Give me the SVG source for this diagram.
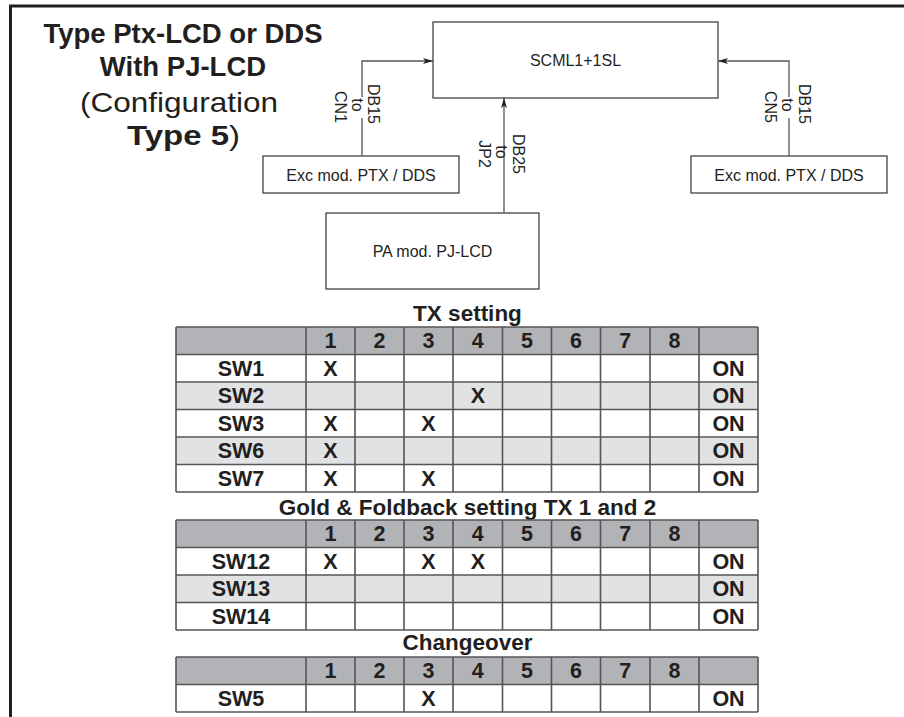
<svg xmlns="http://www.w3.org/2000/svg" width="904" height="717" viewBox="0 0 904 717">
<style>
text{font-family:"Liberation Sans",Arial,sans-serif;fill:#231f20}
.t{font-size:27.5px;font-weight:bold;text-anchor:middle}
.tr{font-size:28px;font-weight:normal;text-anchor:middle}
.n{font-size:16px;text-anchor:middle}
.box{fill:#fff;stroke:#333;stroke-width:1.2}
.conn{fill:none;stroke:#555;stroke-width:1.3}
.h{font-size:22.5px;font-weight:bold;text-anchor:middle}
.c{font-size:21.5px;font-weight:bold;text-anchor:middle}
.hd{fill:#b2b3b6}
.lt{fill:#e1e2e4}
.wt{fill:#fff}
.grid{fill:none;stroke:#555;stroke-width:1.6}
</style>
<defs>
<marker id="arr" viewBox="0 0 10 6" refX="10" refY="3" markerWidth="10" markerHeight="6" markerUnits="userSpaceOnUse" orient="auto">
<path d="M0,0 L10,3 L0,6 L2.5,3 Z" fill="#222"/>
</marker>
</defs>
<rect width="904" height="717" fill="#fff"/>
<path d="M10.5,717 V6 H904" fill="none" stroke="#231f20" stroke-width="3"/>

<g id="title">
<text class="t" x="183" y="43">Type Ptx-LCD or DDS</text>
<text class="t" x="183" y="76">With PJ-LCD</text>
<text class="tr" x="80" y="112" style="text-anchor:start" textLength="198" lengthAdjust="spacingAndGlyphs">(Configuration</text>
<text class="t" x="127" y="145" style="text-anchor:start" textLength="113" lengthAdjust="spacingAndGlyphs">Type 5<tspan font-weight="normal">)</tspan></text>
</g>

<g id="scml">
<rect class="box" x="433" y="22" width="285" height="76"/>
<text class="n" x="575.5" y="66">SCML1+1SL</text>
</g>
<g id="exc-left">
<rect class="box" x="263" y="156" width="196" height="37"/>
<text class="n" x="361" y="181">Exc mod. PTX / DDS</text>
</g>
<g id="exc-right">
<rect class="box" x="691" y="156" width="196" height="37"/>
<text class="n" x="789" y="181">Exc mod. PTX / DDS</text>
</g>
<g id="pa">
<rect class="box" x="326" y="213" width="213" height="76"/>
<text class="n" x="432.5" y="257">PA mod. PJ-LCD</text>
</g>

<g id="connectors">
<path class="conn" d="M362,156 V118"/>
<path class="conn" d="M362,97 V61 H433" marker-end="url(#arr)"/>
<path class="conn" d="M789,156 V118"/>
<path class="conn" d="M789,97 V61 H718" marker-end="url(#arr)"/>
<path class="conn" d="M504,213 V98" marker-end="url(#arr)"/>
<text class="n" transform="translate(368,104) rotate(90)">DB15</text>
<text class="n" transform="translate(352,105) rotate(90)">to</text>
<text class="n" transform="translate(335,107) rotate(90)">CN1</text>
<text class="n" transform="translate(799,104) rotate(90)">DB15</text>
<text class="n" transform="translate(782,105) rotate(90)">to</text>
<text class="n" transform="translate(765,107) rotate(90)">CN5</text>
<text class="n" transform="translate(513,154) rotate(90)">DB25</text>
<text class="n" transform="translate(496,152) rotate(90)">to</text>
<text class="n" transform="translate(479,154) rotate(90)">JP2</text>
</g>

<g id="table-tx">
<text class="h" x="467.5" y="321">TX setting</text>
<rect class="hd" x="176" y="327" width="582" height="27.5"/>
<rect class="wt" x="176" y="354.5" width="582" height="27.5"/>
<rect class="lt" x="176" y="382" width="582" height="27.5"/>
<rect class="wt" x="176" y="409.5" width="582" height="27.5"/>
<rect class="lt" x="176" y="437" width="582" height="27.5"/>
<rect class="wt" x="176" y="464.5" width="582" height="27.5"/>
<path class="grid" d="M176,327 H758 M176,354.5 H758 M176,382 H758 M176,409.5 H758 M176,437 H758 M176,464.5 H758 M176,492 H758 M176,327 V492 M306,327 V492 M355,327 V492 M404,327 V492 M453,327 V492 M502.5,327 V492 M551.5,327 V492 M600.5,327 V492 M650,327 V492 M699,327 V492 M758,327 V492"/>
<text class="c" x="330.5" y="348">1</text><text class="c" x="379.5" y="348">2</text><text class="c" x="428.5" y="348">3</text><text class="c" x="477.8" y="348">4</text><text class="c" x="527" y="348">5</text><text class="c" x="576" y="348">6</text><text class="c" x="625.3" y="348">7</text><text class="c" x="674.5" y="348">8</text>
<text class="c" x="241" y="375.5">SW1</text><text class="c" x="330.5" y="375.5">X</text><text class="c" x="728.5" y="375.5">ON</text>
<text class="c" x="241" y="403">SW2</text><text class="c" x="477.8" y="403">X</text><text class="c" x="728.5" y="403">ON</text>
<text class="c" x="241" y="430.5">SW3</text><text class="c" x="330.5" y="430.5">X</text><text class="c" x="428.5" y="430.5">X</text><text class="c" x="728.5" y="430.5">ON</text>
<text class="c" x="241" y="458">SW6</text><text class="c" x="330.5" y="458">X</text><text class="c" x="728.5" y="458">ON</text>
<text class="c" x="241" y="485.5">SW7</text><text class="c" x="330.5" y="485.5">X</text><text class="c" x="428.5" y="485.5">X</text><text class="c" x="728.5" y="485.5">ON</text>
</g>

<g id="table-gold">
<text class="h" x="467.5" y="515">Gold &amp; Foldback setting TX 1 and 2</text>
<rect class="hd" x="176" y="520" width="582" height="27.5"/>
<rect class="wt" x="176" y="547.5" width="582" height="27.5"/>
<rect class="lt" x="176" y="575" width="582" height="27.5"/>
<rect class="wt" x="176" y="602.5" width="582" height="27.5"/>
<path class="grid" d="M176,520 H758 M176,547.5 H758 M176,575 H758 M176,602.5 H758 M176,630 H758 M176,520 V630 M306,520 V630 M355,520 V630 M404,520 V630 M453,520 V630 M502.5,520 V630 M551.5,520 V630 M600.5,520 V630 M650,520 V630 M699,520 V630 M758,520 V630"/>
<text class="c" x="330.5" y="541">1</text><text class="c" x="379.5" y="541">2</text><text class="c" x="428.5" y="541">3</text><text class="c" x="477.8" y="541">4</text><text class="c" x="527" y="541">5</text><text class="c" x="576" y="541">6</text><text class="c" x="625.3" y="541">7</text><text class="c" x="674.5" y="541">8</text>
<text class="c" x="241" y="568.5">SW12</text><text class="c" x="330.5" y="568.5">X</text><text class="c" x="428.5" y="568.5">X</text><text class="c" x="477.8" y="568.5">X</text><text class="c" x="728.5" y="568.5">ON</text>
<text class="c" x="241" y="596">SW13</text><text class="c" x="728.5" y="596">ON</text>
<text class="c" x="241" y="623.5">SW14</text><text class="c" x="728.5" y="623.5">ON</text>
</g>

<g id="table-changeover">
<text class="h" x="467.5" y="650">Changeover</text>
<rect class="hd" x="176" y="657" width="582" height="27.5"/>
<rect class="wt" x="176" y="684.5" width="582" height="27.5"/>
<path class="grid" d="M176,657 H758 M176,684.5 H758 M176,712 H758 M176,657 V712 M306,657 V712 M355,657 V712 M404,657 V712 M453,657 V712 M502.5,657 V712 M551.5,657 V712 M600.5,657 V712 M650,657 V712 M699,657 V712 M758,657 V712"/>
<text class="c" x="330.5" y="678">1</text><text class="c" x="379.5" y="678">2</text><text class="c" x="428.5" y="678">3</text><text class="c" x="477.8" y="678">4</text><text class="c" x="527" y="678">5</text><text class="c" x="576" y="678">6</text><text class="c" x="625.3" y="678">7</text><text class="c" x="674.5" y="678">8</text>
<text class="c" x="241" y="705.5">SW5</text><text class="c" x="428.5" y="705.5">X</text><text class="c" x="728.5" y="705.5">ON</text>
</g>
</svg>
